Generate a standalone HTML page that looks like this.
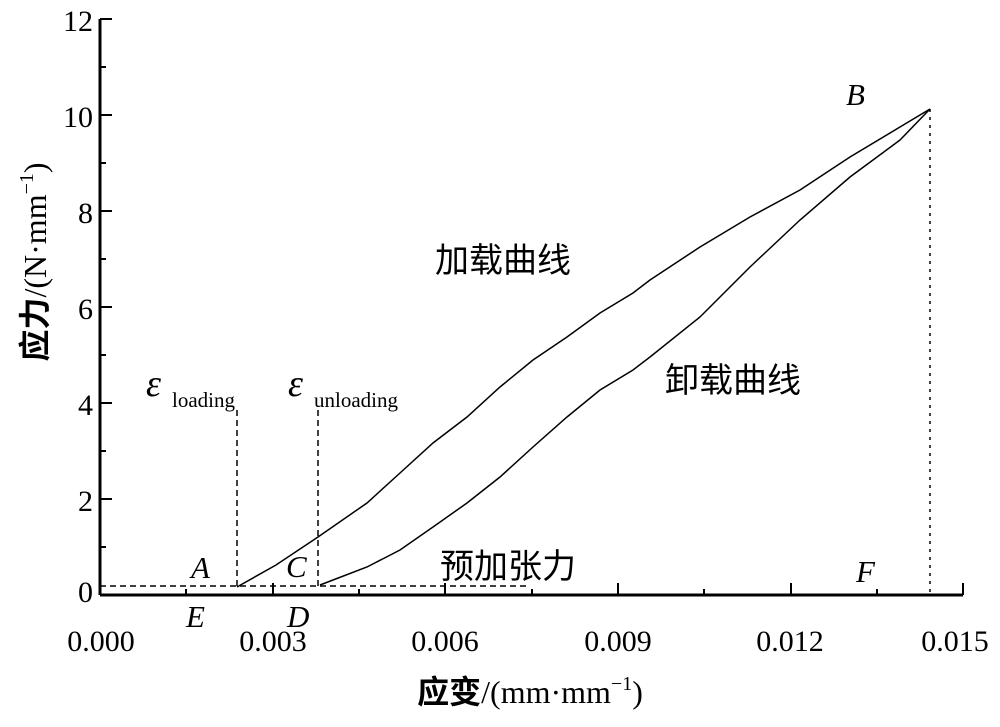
<!DOCTYPE html>
<html><head><meta charset="utf-8"><style>body{margin:0;background:#fff}</style></head><body>
<svg width="1000" height="722" xmlns="http://www.w3.org/2000/svg" font-family="'Liberation Serif','Noto Serif CJK SC',serif">
<g stroke="#000" stroke-width="3" fill="none">
<line x1="100" y1="595" x2="963" y2="595"/>
<line x1="100" y1="19" x2="100" y2="595"/>
</g>
<g stroke="#000" stroke-width="2">
<line x1="100" y1="19" x2="112" y2="19"/><line x1="100" y1="67" x2="106" y2="67"/>
<line x1="100" y1="115" x2="112" y2="115"/><line x1="100" y1="163" x2="106" y2="163"/>
<line x1="100" y1="211" x2="112" y2="211"/><line x1="100" y1="259" x2="106" y2="259"/>
<line x1="100" y1="307" x2="112" y2="307"/><line x1="100" y1="355" x2="106" y2="355"/>
<line x1="100" y1="403" x2="112" y2="403"/><line x1="100" y1="451" x2="106" y2="451"/>
<line x1="100" y1="499" x2="112" y2="499"/><line x1="100" y1="547" x2="106" y2="547"/>
<line x1="186" y1="595" x2="186" y2="589"/><line x1="273" y1="595" x2="273" y2="583"/>
<line x1="359" y1="595" x2="359" y2="589"/><line x1="445" y1="595" x2="445" y2="583"/>
<line x1="532" y1="595" x2="532" y2="589"/><line x1="618" y1="595" x2="618" y2="583"/>
<line x1="704" y1="595" x2="704" y2="589"/><line x1="791" y1="595" x2="791" y2="583"/>
<line x1="877" y1="595" x2="877" y2="589"/><line x1="963" y1="595" x2="963" y2="583"/>
</g>
<g font-size="30" text-anchor="end">
<text x="93" y="31">12</text><text x="93" y="127">10</text><text x="93" y="223">8</text>
<text x="93" y="319">6</text><text x="93" y="415">4</text><text x="93" y="511">2</text><text x="93" y="602">0</text>
</g>
<g font-size="30" text-anchor="middle">
<text x="101" y="651">0.000</text><text x="273" y="651">0.003</text><text x="445" y="651">0.006</text>
<text x="618" y="651">0.009</text><text x="790" y="651">0.012</text><text x="955" y="651">0.015</text>
</g>
<g stroke="#000" stroke-width="1.5" fill="none">
<polyline points="237,587 276,565 318,537 367,503 400,473 433,443 467,417 500,387 533,360 567,337 600,313 633,293 650,280 700,247 750,217 800,190 850,157 900,127 930,109"/>
<polyline points="320,585 333,580 367,567 400,550 433,527 467,503 500,477 533,447 567,417 600,390 633,370 650,357 700,317 750,267 800,220 850,177 900,140 930,109"/>
<g stroke-dasharray="6,4">
<line x1="100" y1="586" x2="530" y2="586"/>
<line x1="237" y1="410" x2="237" y2="586"/>
<line x1="318" y1="410" x2="318" y2="586"/>
</g>
<line x1="930" y1="109" x2="930" y2="594" stroke-dasharray="3,5"/>
</g>
<g font-size="31" font-style="italic">
<text x="846" y="105">B</text><text x="856" y="582">F</text>
<text x="191" y="578">A</text><text x="286" y="577">C</text>
<text x="186" y="627">E</text><text x="287" y="627">D</text>
</g>
<text x="146" y="396" font-size="38" font-style="italic">ε</text><text x="172" y="407" font-size="21">loading</text>
<text x="288" y="396" font-size="38" font-style="italic">ε</text><text x="314" y="407" font-size="21">unloading</text>
<g font-size="34" font-family="'Noto Sans CJK SC',sans-serif">
<text x="435" y="272">加载曲线</text>
<text x="665" y="392">卸载曲线</text>
<text x="440" y="578">预加张力</text>
</g>
<text x="530" y="703" font-size="32" text-anchor="middle"><tspan font-family="'Noto Sans CJK SC',sans-serif" font-weight="bold">应变</tspan>/(mm·mm<tspan font-size="20" dy="-13">−1</tspan><tspan dy="13">)</tspan></text>
<text transform="translate(46,262) rotate(-90)" font-size="32" text-anchor="middle"><tspan font-family="'Noto Sans CJK SC',sans-serif" font-weight="bold">应力</tspan>/(N·mm<tspan font-size="20" dy="-13">−1</tspan><tspan dy="13">)</tspan></text>
</svg>
</body></html>
